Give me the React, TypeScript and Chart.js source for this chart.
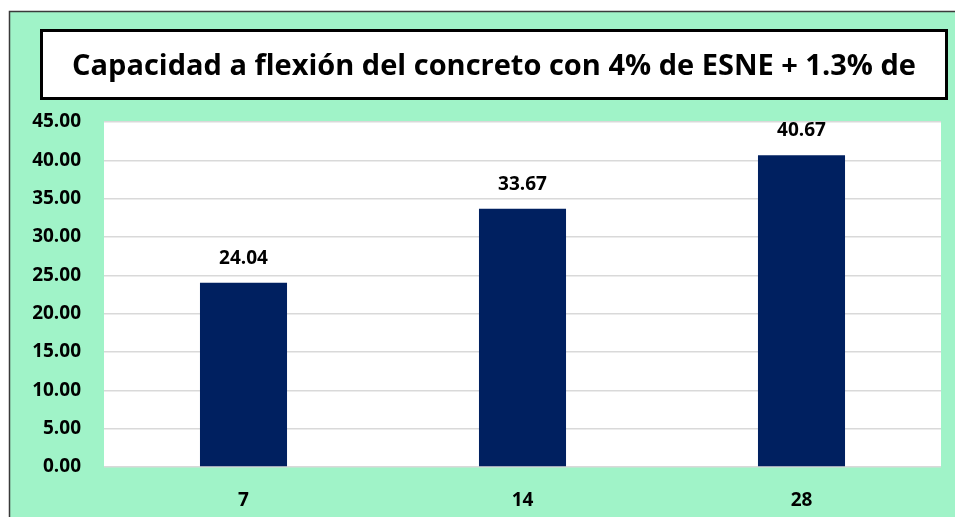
import React, { useEffect, useRef } from "react";
import { Chart, registerables } from "chart.js";

Chart.register(...registerables);

const titleText = "Capacidad a flexión del concreto con 4% de ESNE + 1.3% de";
const categories = ["7", "14", "28"];
const values = [24.04, 33.67, 40.67];
const yMin = 0;
const yMax = 45;
const yStep = 5;

const BG = "#a0f3c8";
const BAR = "#002060";
const FONT = "'Open Sans'";

const framePlugin = {
  id: "frame",
  beforeDraw(chart: any) {
    const { ctx, width, height, chartArea } = chart;
    ctx.save();
    ctx.fillStyle = BG;
    ctx.fillRect(9, 11, width - 9, height - 11);
    ctx.strokeStyle = "#3a3a3a";
    ctx.lineWidth = 1.5;
    ctx.beginPath();
    ctx.moveTo(9.5, height);
    ctx.lineTo(9.5, 11.5);
    ctx.lineTo(width, 11.5);
    ctx.stroke();
    ctx.fillStyle = "#ffffff";
    ctx.fillRect(chartArea.left, chartArea.top, chartArea.right - chartArea.left, chartArea.bottom - chartArea.top);
    // title box
    ctx.fillStyle = "#ffffff";
    ctx.fillRect(41, 30, 906, 69);
    ctx.strokeStyle = "#000000";
    ctx.lineWidth = 3;
    ctx.strokeRect(41.5, 30.5, 905, 68);
    ctx.beginPath();
    ctx.rect(43, 32, 902, 65);
    ctx.clip();
    ctx.fillStyle = "#000000";
    ctx.font = `bold 29px ${FONT}`;
    ctx.textAlign = "center";
    ctx.textBaseline = "alphabetic";
    ctx.fillText(titleText, 494, 75);
    ctx.restore();
  },
};

const labelPlugin = {
  id: "barLabels",
  afterDatasetsDraw(chart: any) {
    const { ctx } = chart;
    const meta = chart.getDatasetMeta(0);
    ctx.save();
    ctx.fillStyle = "#000000";
    ctx.font = `bold 19px ${FONT}`;
    ctx.textAlign = "center";
    ctx.textBaseline = "alphabetic";
    meta.data.forEach((el: any, i: number) => {
      ctx.fillText(values[i].toFixed(2), el.x, el.y - 19);
    });
    ctx.restore();
  },
};

export default function App() {
  const ref = useRef<HTMLCanvasElement>(null);
  useEffect(() => {
    if (!ref.current) return;
    const chart = new Chart(ref.current, {
      type: "bar",
      data: {
        labels: categories,
        datasets: [
          {
            data: values,
            backgroundColor: BAR,
            borderWidth: 0,
            categoryPercentage: 1,
            barPercentage: 0.312,
          },
        ],
      },
      options: {
        responsive: false,
        animation: false,
        layout: { padding: { left: 0, top: 122, right: 14, bottom: 0 } },
        plugins: {
          legend: { display: false },
          title: { display: false },
          tooltip: { enabled: false },
        },
        scales: {
          x: {
            grid: { display: false, drawTicks: false },
            border: { display: false },
            ticks: {
              color: "#000000",
              font: { family: "Open Sans", size: 19, weight: "bold" },
              padding: 22,
            },
            afterFit(scale: any) {
              scale.height = 50;
            },
          },
          y: {
            min: yMin,
            max: yMax,
            grid: { color: "#d9d9d9", lineWidth: 1.5, drawTicks: false },
            border: { display: false },
            ticks: {
              stepSize: yStep,
              color: "#000000",
              font: { family: "Open Sans", size: 19, weight: "bold" },
              padding: 23,
              callback: (v: any) => Number(v).toFixed(2),
            },
            afterFit(scale: any) {
              scale.width = 104;
            },
          },
        },
      },
      plugins: [framePlugin, labelPlugin],
    });
    return () => chart.destroy();
  }, []);
  return (
    <div style={{ position: "absolute", left: 0, top: 0, width: 955, height: 517 }}>
      <canvas ref={ref} width={955} height={517} style={{ display: "block", width: 955, height: 517 }} />
    </div>
  );
}
